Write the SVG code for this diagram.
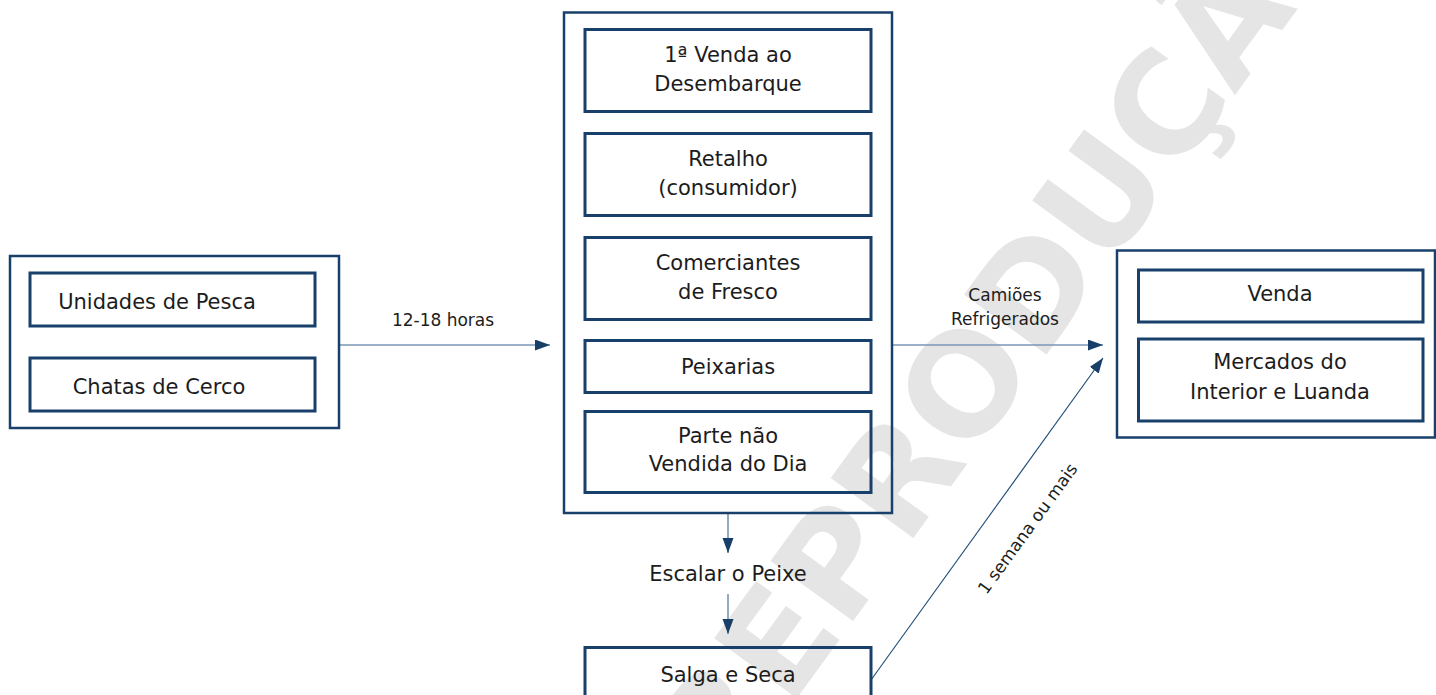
<svg xmlns="http://www.w3.org/2000/svg" width="1436" height="695" viewBox="0 0 1436 695">
<style>
.outer{fill:none;stroke:#19406a;stroke-width:2.5}
.inner{fill:none;stroke:#19406a;stroke-width:3}
.t{font-family:"DejaVu Sans","Noto Sans",sans-serif;font-size:21px;fill:#1c1c1c;text-anchor:middle}
.lbl{font-family:"DejaVu Sans","Noto Sans",sans-serif;font-size:17px;fill:#1c1c1c;text-anchor:middle}
.wm{font-family:"DejaVu Sans","Noto Sans",sans-serif;font-size:140px;font-weight:bold;fill:#e5e5e5;text-anchor:middle}
.conn{fill:none;stroke:#7896b4;stroke-width:1.6}
.diag{fill:none;stroke:#1d4a76;stroke-width:1.1}
</style>
<defs>
<marker id="ah" markerUnits="userSpaceOnUse" markerWidth="16" markerHeight="12" refX="15" refY="5.5" orient="auto">
<path d="M0,0 L15,5.5 L0,11 z" fill="#173f68"/>
</marker>
</defs>
<rect width="1436" height="695" fill="#ffffff"/>
<text class="wm" transform="translate(1047,354) rotate(-54)">REPRODUÇÃO</text>

<g id="connectors">
<line class="conn" x1="340" y1="345" x2="550" y2="345" marker-end="url(#ah)"/>
<text class="lbl" x="443" y="326">12-18 horas</text>
<line class="conn" x1="892" y1="345" x2="1103" y2="345" marker-end="url(#ah)"/>
<text class="lbl" x="1005" y="301">Camiões</text>
<text class="lbl" x="1005" y="325">Refrigerados</text>
<line class="conn" x1="728" y1="514" x2="728" y2="553" marker-end="url(#ah)"/>
<line class="conn" x1="728" y1="594" x2="728" y2="634" marker-end="url(#ah)"/>
<line class="diag" x1="871" y1="680" x2="1103" y2="358" marker-end="url(#ah)"/>
<text class="lbl" transform="translate(1027.5,528.5) rotate(-54)" y="6">1 semana ou mais</text>
</g>

<g id="origem">
<rect class="outer" x="10" y="256" width="329" height="172"/>
<rect class="inner" x="30" y="273" width="285" height="53"/>
<text class="t" x="157" y="309">Unidades de Pesca</text>
<rect class="inner" x="30" y="358" width="285" height="53"/>
<text class="t" x="159" y="394">Chatas de Cerco</text>
</g>

<g id="mercado-local">
<rect class="outer" x="564" y="12.5" width="328" height="500.5"/>
<rect class="inner" x="585" y="29.5" width="286" height="82"/>
<text class="t" x="728" y="62">1ª Venda ao</text>
<text class="t" x="728" y="91">Desembarque</text>
<rect class="inner" x="585" y="133.5" width="286" height="82"/>
<text class="t" x="728" y="166">Retalho</text>
<text class="t" x="728" y="195">(consumidor)</text>
<rect class="inner" x="585" y="237.5" width="286" height="82"/>
<text class="t" x="728" y="270">Comerciantes</text>
<text class="t" x="728" y="299">de Fresco</text>
<rect class="inner" x="585" y="340.5" width="286" height="52"/>
<text class="t" x="728" y="374">Peixarias</text>
<rect class="inner" x="585" y="411.5" width="286" height="81"/>
<text class="t" x="728" y="443">Parte não</text>
<text class="t" x="728" y="471">Vendida do Dia</text>
</g>

<g id="escalar">
<text class="t" x="728" y="581">Escalar o Peixe</text>
</g>

<g id="salga">
<rect class="inner" x="585" y="647.5" width="286" height="60"/>
<text class="t" x="728" y="682">Salga e Seca</text>
</g>

<g id="destino">
<rect class="outer" x="1117" y="250.5" width="318" height="187"/>
<rect class="inner" x="1138.5" y="270" width="284.5" height="52"/>
<text class="t" x="1280" y="301">Venda</text>
<rect class="inner" x="1138.5" y="339" width="284.5" height="82"/>
<text class="t" x="1280" y="369">Mercados do</text>
<text class="t" x="1280" y="399">Interior e Luanda</text>
</g>
</svg>
